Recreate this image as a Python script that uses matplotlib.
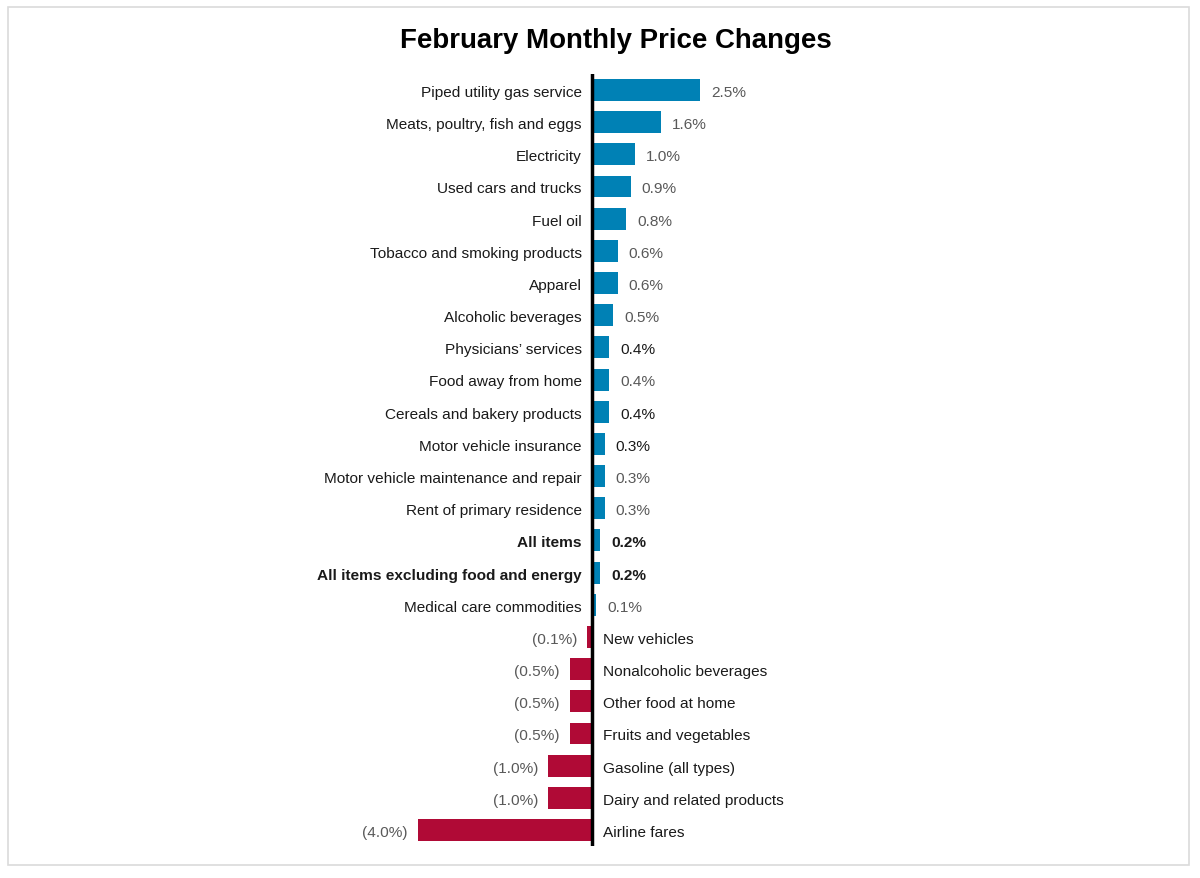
import matplotlib
matplotlib.use("Agg")
import matplotlib.pyplot as plt
from matplotlib.patches import Rectangle

plt.rcParams['font.family'] = ['Liberation Sans', 'DejaVu Sans']

categories = ["Piped utility gas service", "Meats, poultry, fish and eggs", "Electricity",
              "Used cars and trucks", "Fuel oil", "Tobacco and smoking products", "Apparel",
              "Alcoholic beverages", "Physicians\u2019 services", "Food away from home",
              "Cereals and bakery products", "Motor vehicle insurance",
              "Motor vehicle maintenance and repair", "Rent of primary residence",
              "All items", "All items excluding food and energy", "Medical care commodities",
              "New vehicles", "Nonalcoholic beverages", "Other food at home",
              "Fruits and vegetables", "Gasoline (all types)", "Dairy and related products",
              "Airline fares"]
changes = [2.5, 1.6, 1.0, 0.9, 0.8, 0.6, 0.6, 0.5, 0.4, 0.4, 0.4, 0.3, 0.3, 0.3,
           0.2, 0.2, 0.1, -0.1, -0.5, -0.5, -0.5, -1.0, -1.0, -4.0]
bold_rows = ["All items", "All items excluding food and energy"]
dark_value_rows = ["Physicians\u2019 services", "Cereals and bakery products", "Motor vehicle insurance"]

BLUE = "#0081B5"
RED = "#B00A36"
W, H = 1200, 879
FS = 11.1

fig = plt.figure(figsize=(12, 8.79), dpi=100)
fig.patches.append(Rectangle((8 / W, 1 - 866 / H), 1181 / W, 858 / H, transform=fig.transFigure,
                             fill=False, edgecolor="#DADADA", linewidth=1.2))

# axes: x from -4 (418px) to 2.5 (700px); rows 0..23 from 91px to 831px
step = (831 - 91) / 23
top, bot = 91 - step / 2, 831 + step / 2
ax = fig.add_axes([418 / W, 1 - bot / H, 282 / W, (bot - top) / H])
ax.set_xlim(-4, 2.5)
ax.set_ylim(len(categories) - 0.5, -0.5)
ax.axis("off")

px = 6.5 / 282  # data units per pixel
ys = list(range(len(categories)))
colors = [BLUE if v >= 0 else RED for v in changes]
ax.barh(ys, changes, height=0.68, color=colors, clip_on=False)
ax.axvline(0, color="black", linewidth=2.5, ymin=0, ymax=1)

dy = 0.06
for y, cat, v in zip(ys, categories, changes):
    weight = "bold" if cat in bold_rows else "normal"
    vcol = "#1a1a1a" if (cat in bold_rows or cat in dark_value_rows) else "#595959"
    if v >= 0:
        ax.text(-10 * px, y + dy, cat, ha="right", va="center", fontsize=FS,
                color="#1a1a1a", fontweight=weight, clip_on=False)
        ax.text(v + 11 * px, y + dy, f"{v:.1f}%", ha="left", va="center", fontsize=FS,
                color=vcol, fontweight=weight, clip_on=False)
    else:
        ax.text(11 * px, y + dy, cat, ha="left", va="center", fontsize=FS,
                color="#1a1a1a", clip_on=False)
        ax.text(v - 10 * px, y + dy, f"({abs(v):.1f}%)", ha="right", va="center", fontsize=FS,
                color="#595959", clip_on=False)

fig.text(616 / W, 1 - 41 / H, "February Monthly Price Changes", ha="center", va="center",
         fontsize=19.9, fontweight="bold", color="black")

fig.savefig("out.png", dpi=100, facecolor="white")
